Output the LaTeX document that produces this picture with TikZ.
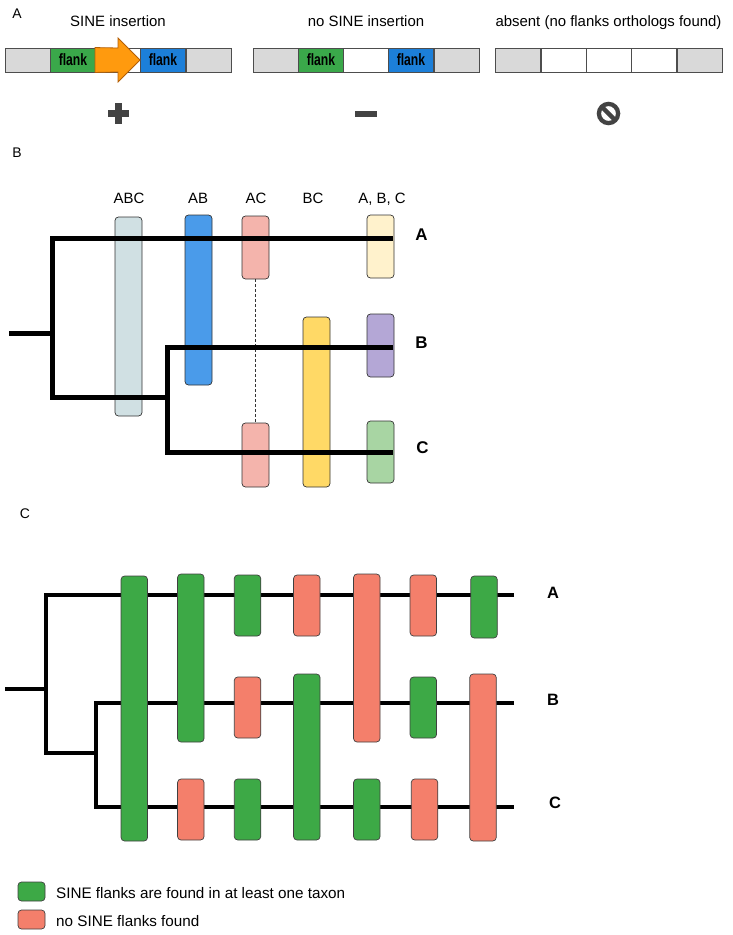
\documentclass[tikz,border=0pt]{standalone}
\usepackage{fontspec}
\usepackage{graphicx}
\usetikzlibrary{calc}
\setmainfont{Liberation Sans}
\definecolor{segray}{HTML}{D9D9D9}
\definecolor{segline}{HTML}{4D4D4D}
\definecolor{flgreen}{HTML}{3AA84A}
\definecolor{flblue}{HTML}{1C7FD9}
\definecolor{sineor}{HTML}{FF9A0E}
\definecolor{sineorline}{HTML}{B45F06}
\definecolor{symgray}{HTML}{434343}
\definecolor{cABC}{HTML}{D0E0E3}
\definecolor{cAB}{HTML}{4A9BEA}
\definecolor{cAC}{HTML}{F4B4AC}
\definecolor{cBC}{HTML}{FFD966}
\definecolor{cA}{HTML}{FFF2CC}
\definecolor{cB}{HTML}{B4A7D6}
\definecolor{cC}{HTML}{A8D5A3}
\definecolor{gbox}{HTML}{3DA946}
\definecolor{rbox}{HTML}{F47F6B}
\tikzset{
  seg/.style={draw=segline, line width=0.9bp, minimum width=45bp, minimum height=24bp, inner sep=0pt, anchor=west},
  flanktxt/.style={font=\fontsize{16.5}{16.5}\selectfont\bfseries},
  title/.style={font=\fontsize{15}{18}\selectfont, anchor=base, inner sep=0pt},
  panel/.style={font=\fontsize{14}{16}\selectfont, anchor=base, inner sep=0pt},
  taxon/.style={font=\fontsize{17}{20}\selectfont\bfseries, anchor=base, inner sep=0pt},
  bbox/.style={draw=black!80, line width=0.7bp, rounded corners=3.5bp, minimum width=27bp, inner sep=0pt},
  cbox/.style={draw=black!75, line width=0.7bp, rounded corners=3.5bp, minimum width=26.5bp, inner sep=0pt},
  treeB/.style={line width=5bp, black},
  treeC/.style={line width=4bp, black},
  legtxt/.style={font=\fontsize{15.3}{18}\selectfont, anchor=base west, inner sep=0pt},
}
\newcommand{\flk}{\scalebox{0.74}[1]{flank}}
\begin{document}
\begin{tikzpicture}[x=1bp,y=-1bp]
\useasboundingbox (0,0) rectangle (733,935);
% ===== Panel A =====
\node[panel] (pA) at (17,18.5) {A};
\node[title] (t1) at (118,26) {SINE insertion};
\node[title] (t2) at (366,26) {no SINE insertion};
\node[title] (t3) at (608.5,26) {absent (no flanks orthologs found)};
% bar 1
\node[seg, fill=segray] (a1) at (5,60) {};
\node[seg, fill=flgreen, flanktxt] (a2) at (50,60) {\flk};
\node[seg, fill=white] (a3) at (95,60) {};
\node[seg, fill=flblue, flanktxt] (a4) at (140,60) {\flk};
\node[seg, fill=segray] (a5) at (186,60) {};
\draw[fill=sineor, draw=sineorline, line width=0.8bp] (a3.north west) -- (118,48) -- (118,38) -- (a4.west) -- (118,82) -- (118,72) -- (a3.south west) -- cycle;
% bar 2
\node[seg, fill=segray] (b1) at (253,60) {};
\node[seg, fill=flgreen, flanktxt] (b2) at (298,60) {\flk};
\node[seg, fill=white] (b3) at (343,60) {};
\node[seg, fill=flblue, flanktxt] (b4) at (388,60) {\flk};
\node[seg, fill=segray] (b5) at (433.5,60) {};
% bar 3
\node[seg, fill=segray] (c1) at (495,60) {};
\node[seg, fill=white] (c2) at (540.5,60) {};
\node[seg, fill=white] (c3) at (586,60) {};
\node[seg, fill=white] (c4) at (631,60) {};
\node[seg, fill=segray] (c5) at (676.5,60) {};
% symbols
\fill[symgray] (107.5,110) rectangle (128.5,117);
\fill[symgray] (114.5,103) rectangle (121.5,124);
\fill[symgray] (355,110.5) rectangle (377,116.5);
\coordinate (ban) at (608.5,113.5);
\draw[symgray, line width=4.3bp] (ban) circle (9.6bp);
\draw[symgray, line width=4.3bp] ($(ban)+(-6.8,-6.8)$) -- ($(ban)+(6.8,6.8)$);
% ===== Panel B =====
\node[panel] (pB) at (17,157) {B};
\node[title] (lABC) at (129,203) {ABC};
\node[title] (lAB) at (198,203) {AB};
\node[title] (lAC) at (256,203) {AC};
\node[title] (lBC) at (313,203) {BC};
\node[title] (lsep) at (382,203) {A, B, C};
\node[bbox, fill=cABC, minimum height=199bp] (xABC) at (128.5,316.5) {};
\node[bbox, fill=cAB, minimum height=170bp] (xAB) at (198.5,300) {};
\node[bbox, fill=cAC, minimum height=63bp] (xACa) at (255.5,247.5) {};
\node[bbox, fill=cAC, minimum height=64bp] (xACc) at (255.5,455) {};
\node[bbox, fill=cBC, minimum height=170bp] (xBC) at (316.5,402) {};
\node[bbox, fill=cA, minimum height=63bp] (xA) at (380.5,246.5) {};
\node[bbox, fill=cB, minimum height=63bp] (xB) at (380.5,345.5) {};
\node[bbox, fill=cC, minimum height=62bp] (xC) at (380.5,452) {};
\draw[black!80, line width=0.7bp, dash pattern=on 3bp off 2bp] (xACa.south) -- (xACc.north);
\coordinate (Broot) at (9,333);
\coordinate (Bn1) at (52,333);
\coordinate (BtA) at (393,238);
\coordinate (BtB) at (393,347);
\coordinate (BtC) at (393,452);
\draw[treeB] (Broot) -- (Bn1);
\draw[treeB] (BtA) -- (52,238) -- (52,397) -- (167,397);
\draw[treeB] (BtB) -- (167,347) -- (167,452) -- (BtC);
\node[taxon] (BA) at (421.5,240.5) {A};
\node[taxon] (BB) at (421.5,348) {B};
\node[taxon] (BC) at (422.5,453) {C};
% ===== Panel C =====
\node[panel] (pC) at (25,518) {C};
\coordinate (Croot) at (5,689);
\coordinate (Cn1) at (46,689);
\coordinate (CtA) at (514,595);
\coordinate (CtB) at (514,703);
\coordinate (CtC) at (514,807);
\draw[treeC] (Croot) -- (Cn1);
\draw[treeC] (CtA) -- (46,595) -- (46,753) -- (96,753);
\draw[treeC] (CtB) -- (96,703) -- (96,807) -- (CtC);
% column 1
\node[cbox, fill=gbox, minimum height=265bp] (k1) at (134.3,708.5) {};
% column 2
\node[cbox, fill=gbox, minimum height=168bp] (k2a) at (190.8,658) {};
\node[cbox, fill=rbox, minimum height=61bp] (k2c) at (190.8,809.5) {};
% column 3
\node[cbox, fill=gbox, minimum height=61bp] (k3a) at (247.5,605.5) {};
\node[cbox, fill=rbox, minimum height=61bp] (k3b) at (247.5,707.5) {};
\node[cbox, fill=gbox, minimum height=61bp] (k3c) at (247.5,809.5) {};
% column 4
\node[cbox, fill=rbox, minimum height=61bp] (k4a) at (306.8,605.5) {};
\node[cbox, fill=gbox, minimum height=166bp] (k4b) at (306.8,757) {};
% column 5
\node[cbox, fill=rbox, minimum height=168bp] (k5a) at (366.8,658) {};
\node[cbox, fill=gbox, minimum height=61bp] (k5c) at (366.8,809.5) {};
% column 6
\node[cbox, fill=rbox, minimum height=61bp] (k6a) at (423.3,605.5) {};
\node[cbox, fill=gbox, minimum height=61bp] (k6b) at (423.3,707.5) {};
\node[cbox, fill=rbox, minimum height=61bp] (k6c) at (424.5,809.5) {};
% column 7
\node[cbox, fill=gbox, minimum height=62bp] (k7a) at (484,607) {};
\node[cbox, fill=rbox, minimum height=167bp] (k7b) at (483,757.5) {};
\node[taxon, font=\fontsize{16.5}{19}\selectfont\bfseries] (CA) at (553,598) {A};
\node[taxon, font=\fontsize{16.5}{19}\selectfont\bfseries] (CB) at (553,705) {B};
\node[taxon, font=\fontsize{16.5}{19}\selectfont\bfseries] (CC) at (555,808) {C};
% legend
\node[cbox, fill=gbox, minimum width=27bp, minimum height=19bp] (lg) at (31.5,891.5) {};
\node[cbox, fill=rbox, minimum width=27bp, minimum height=19bp] (lr) at (31.5,919.5) {};
\node[legtxt] (lgt) at (56,898) {SINE flanks are found in at least one taxon};
\node[legtxt] (lrt) at (56,926) {no SINE flanks found};
\end{tikzpicture}
\end{document}
